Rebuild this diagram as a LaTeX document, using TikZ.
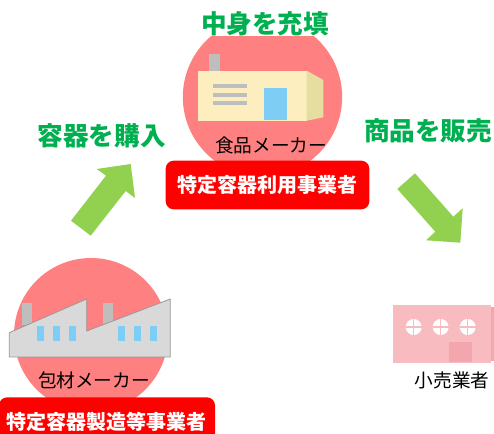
\documentclass[tikz,border=0pt]{standalone}
\usepackage{fontspec}
\newfontfamily\cjk{Noto Sans CJK JP}
\newfontfamily\cjkheavy{Noto Sans CJK JP Black}
\definecolor{circlered}{RGB}{255,128,128}
\definecolor{titlegreen}{RGB}{0,176,80}
\definecolor{arrowgreen}{RGB}{146,208,80}
\definecolor{wallcream}{RGB}{252,238,190}
\definecolor{wallside}{RGB}{230,222,160}
\definecolor{skyblue}{RGB}{125,205,245}
\definecolor{roofgrey}{RGB}{190,190,190}
\definecolor{wallgrey}{RGB}{217,217,217}
\definecolor{shoppink}{RGB}{248,188,192}
\definecolor{doorpink}{RGB}{244,166,174}
\tikzset{
  roundback/.style={circle,fill=circlered,inner sep=0},
  titlelabel/.style={inner sep=0,fill=white,text=titlegreen,font=\cjkheavy\fontsize{19.2}{22}\selectfont},
  namelabel/.style={inner sep=0,font=\cjk\fontsize{14}{16}\selectfont},
  rolebox/.style={fill=red,rounded corners=6pt,inner sep=0,text=white,font=\cjk\bfseries\fontsize{15}{18}\selectfont},
  blockarrow/.style={fill=arrowgreen}
}
\begin{document}
\begin{tikzpicture}[x=0.75pt,y=0.75pt,yscale=-1,xscale=1]
\path[use as bounding box,clip] (0,0) rectangle (494,434);

%Shape: Circle
\node[roundback,minimum size=119.5pt] (foodback) at (262.5,97) {};
\node[roundback,minimum size=115.5pt] (packback) at (91,335) {};

%Block arrows
\fill[blockarrow] (71,220.7) -- (90.7,235.7) -- (125.7,191) -- (135,198) -- (130.7,164) -- (96.7,169) -- (106,175.7) -- cycle;
\fill[blockarrow] (397.3,189) -- (415,173.3) -- (453.3,216.7) -- (462.7,208.3) -- (460.3,242.7) -- (426,240.3) -- (435.3,231.7) -- cycle;

%Food factory
\fill[roofgrey] (209.3,54.3) rectangle (220,70.7);
\fill[wallcream] (198.3,70.7) rectangle (306.7,120.7);
\fill[wallside] (306.7,70.7) -- (323.3,80) -- (323.3,117.3) -- (306.7,120.7) -- cycle;
\foreach \y in {84,92.7,101.3}
  \fill[roofgrey] (213.3,\y) rectangle (247,\y+4);
\fill[skyblue] (263.7,88) rectangle (287.3,120);

%Packaging factory
\fill[roofgrey] (22,302.7) rectangle (31.7,325);
\fill[roofgrey] (102.7,302.7) rectangle (113.3,325);
\draw[fill=wallgrey,draw=gray!80,line width=0.6pt] (9.3,332.7) -- (86.7,299) -- (86.7,331) -- (170.3,299) -- (170.3,357) -- (9.3,357) -- cycle;
\foreach \x in {36.7,52.7,68.7,117.7,133.7,149.7}
  \fill[skyblue] (\x,326) rectangle (\x+7.3,340.7);

%Shop
\fill[doorpink] (490.7,307) rectangle (494,361);
\fill[shoppink] (393,305) rectangle (490.7,362.7);
\fill[doorpink] (449.3,342) rectangle (471.7,361.7);
\foreach \x in {413.7,440.7,467.7} {
  \fill[white] (\x,327) circle (6pt);
  \draw[shoppink,line width=0.8pt] (\x-8,327) -- (\x+8,327) (\x,319) -- (\x,335);
}

% Text Node
\node[titlelabel] (fillttl) at (265,24) {中身を充填};
\node[titlelabel,fill=none] (buyttl) at (101.7,135.7) {容器を購入};
\node[titlelabel,fill=none] (sellttl) at (428,131) {商品を販売};
\node[namelabel] (foodname) at (271,145) {食品メーカー};
\node[namelabel] (packname) at (94,380) {包材メーカー};
\node[namelabel] (shopname) at (452,380) {小売業者};
\node[rolebox,minimum width=152.7pt,minimum height=36.5pt] (foodrole) at (267.5,185) {特定容器利用事業者};
\node[rolebox,minimum width=162pt,minimum height=36.5pt] (packrole) at (107,421.7) {特定容器製造等事業者};
\end{tikzpicture}
\end{document}
